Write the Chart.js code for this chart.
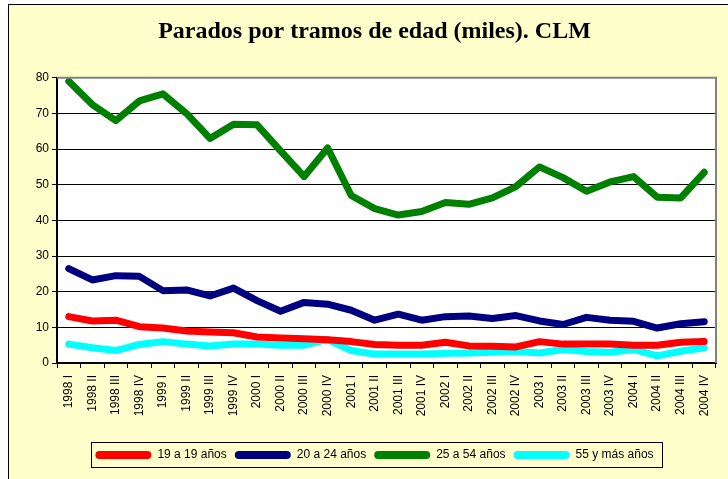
<!DOCTYPE html>
<html>
<head>
<meta charset="utf-8">
<script src="https://cdn.jsdelivr.net/npm/chart.js@4/dist/chart.umd.min.js"></script>
<style>
  body { margin: 0; background: #fff; overflow: hidden; }
  #marco {
    position: absolute; left: 8px; top: 4px; width: 740px; height: 490px;
    border: 1px solid #000; background: #FFFFCC;
  }
  #lienzo { position: absolute; left: 9px; top: 5px; }
</style>
</head>
<body>
<div id="marco"></div>
<canvas id="lienzo" width="719" height="474"></canvas>
<script>
const trimestres = [
  "1998 I", "1998 II", "1998 III", "1998 IV",
  "1999 I", "1999 II", "1999 III", "1999 IV",
  "2000 I", "2000 II", "2000 III", "2000 IV",
  "2001 I", "2001 II", "2001 III", "2001 IV",
  "2002 I", "2002 II", "2002 III", "2002 IV",
  "2003 I", "2003 II", "2003 III", "2003 IV",
  "2004 I", "2004 II", "2004 III", "2004 IV"
];

const edad19 = [13, 11.8, 12, 10.2, 9.8, 9, 8.7, 8.5, 7.3, 7, 6.8, 6.5, 6, 5.2,
  5, 5, 5.8, 4.8, 4.7, 4.5, 6, 5.3, 5.3, 5.3, 5, 5, 5.8, 6];
const edad20a24 = [26.5, 23.3, 24.5, 24.3, 20.3, 20.5, 18.8, 21, 17.5, 14.5, 17, 16.5,
  14.8, 12, 13.7, 12, 13, 13.2, 12.5, 13.3, 11.8, 10.8, 12.8, 12, 11.7, 9.8, 11, 11.6];
const edad25a54 = [79, 72.5, 68, 73.5, 75.5, 70, 63, 67, 66.8, 59.5, 52.3, 60.3,
  47, 43.3, 41.5, 42.5, 45, 44.5, 46.3, 49.5, 55, 52, 48.2, 50.8, 52.3, 46.5, 46.3, 53.5];
const edad55 = [5.3, 4.3, 3.5, 5.2, 6, 5.3, 4.8, 5.3, 5.3, 5, 5, 6.6, 3.5, 2.5,
  2.5, 2.5, 2.7, 2.8, 3, 3.3, 2.8, 3.8, 3.2, 3, 3.8, 2, 3.3, 4.3];

const nombres = ["19 a 19 años", "20 a 24 años", "25 a 54 años", "55 y más años"];
const colores = ["#FF0000", "#000080", "#008000", "#00FFFF"];
const valoresEjeY = [0, 10, 20, 30, 40, 50, 60, 70, 80];

const fuente = "'Liberation Sans', Arial, sans-serif";
const margenIzq = 24; // desplaza título y leyenda un poco a la derecha

// fondo blanco del área de trazado y su borde gris
const fondoArea = {
  id: "fondoArea",
  beforeDraw(chart) {
    const { ctx, chartArea: a } = chart;
    ctx.save();
    ctx.fillStyle = "#fff";
    ctx.fillRect(a.left, a.top, a.right - a.left, a.bottom - a.top);
    ctx.restore();
  },
  afterDatasetsDraw(chart) {
    const { ctx, chartArea: a } = chart;
    ctx.save();
    ctx.strokeStyle = "#808080";
    ctx.lineWidth = 2;
    ctx.beginPath();
    ctx.moveTo(a.left, a.top);
    ctx.lineTo(a.right, a.top);
    ctx.lineTo(a.right, a.bottom);
    ctx.stroke();
    ctx.restore();
  }
};

// marco negro alrededor de la leyenda
const marcoLeyenda = {
  id: "marcoLeyenda",
  afterDraw(chart) {
    const cajas = chart.legend.legendHitBoxes;
    if (!cajas || !cajas.length) return;
    const ultima = cajas[cajas.length - 1];
    const x1 = cajas[0].left - 4;
    const x2 = ultima.left + ultima.width + 9;
    const yc = cajas[0].top + cajas[0].height / 2;
    const { ctx } = chart;
    ctx.save();
    ctx.strokeStyle = "#000";
    ctx.lineWidth = 1;
    ctx.strokeRect(Math.round(x1) + 0.5, Math.round(yc - 13) + 0.5, Math.round(x2 - x1), 25);
    ctx.restore();
  }
};

const series = [edad19, edad20a24, edad25a54, edad55].map((datos, i) => ({
  label: nombres[i],
  data: datos,
  borderColor: colores[i],
  backgroundColor: colores[i],
  borderWidth: 7,
  pointRadius: 0,
  tension: 0,
  borderCapStyle: "round",
  borderJoinStyle: "round"
}));

new Chart(document.getElementById("lienzo").getContext("2d"), {
  type: "line",
  data: { labels: trimestres, datasets: series },
  options: {
    responsive: false,
    animation: false,
    layout: { padding: { left: margenIzq, right: 12, top: 0, bottom: 8 } },
    plugins: {
      title: {
        display: true,
        text: "Parados por tramos de edad (miles). CLM",
        color: "#000",
        font: { family: "'Liberation Serif', 'Times New Roman', serif", size: 24, weight: "bold" },
        padding: { top: 12, bottom: 32 }
      },
      legend: {
        position: "bottom",
        labels: {
          color: "#000",
          font: { family: fuente, size: 12 },
          boxWidth: 56,
          boxHeight: 8,
          padding: 8,
          useBorderRadius: true,
          borderRadius: 4,
          generateLabels(chart) {
            const items = Chart.defaults.plugins.legend.labels.generateLabels(chart);
            items.forEach(it => { it.lineWidth = 0; });
            return items;
          }
        }
      },
      tooltip: { enabled: false }
    },
    scales: {
      x: {
        offset: true,
        grid: { offset: true, drawOnChartArea: false, color: "#000", tickLength: 5, tickColor: "#000" },
        border: { color: "#000", width: 2 },
        ticks: {
          color: "#000",
          font: { family: fuente, size: 12 },
          minRotation: 90,
          maxRotation: 90,
          autoSkip: false,
          padding: 7
        },
        afterFit(scale) { scale.height = 78; }
      },
      y: {
        min: 0,
        max: 80,
        afterBuildTicks(scale) { scale.ticks = valoresEjeY.map(v => ({ value: v })); },
        grid: { color: "#000", lineWidth: 1, tickLength: 5, tickColor: "#000" },
        border: { color: "#000", width: 2 },
        ticks: { color: "#000", font: { family: fuente, size: 12 }, padding: 3 },
        afterFit(scale) { scale.width = 48 - margenIzq; }
      }
    }
  },
  plugins: [fondoArea, marcoLeyenda]
});
</script>
</body>
</html>
